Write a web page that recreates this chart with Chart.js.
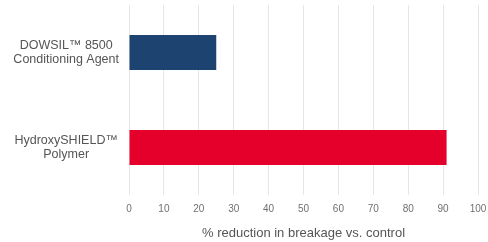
<!DOCTYPE html>
<html>
<head>
<meta charset="utf-8">
<script src="https://cdn.jsdelivr.net/npm/chart.js@4/dist/chart.umd.min.js"></script>
<style>
	html, body { margin:0; padding:0; background:#fff; }
	#wrap { width:488px; height:242px; }
</style>
</head>
<body>
<div id="wrap"><canvas id="chart" width="488" height="242"></canvas></div>
<script>
var categories = [['DOWSIL\u2122 8500', 'Conditioning Agent'], ['HydroxySHIELD\u2122', 'Polymer']];
var reduction = [25, 91];
var barColors = ['#1d4470', '#e5002b'];
var xTicks = [0, 10, 20, 30, 40, 50, 60, 70, 80, 90, 100];
var xTitle = '% reduction in breakage vs. control';

var ctx = document.getElementById('chart').getContext('2d');
var chart = new Chart(ctx, {
	type: 'bar',
	data: {
		labels: categories,
		datasets: [{
			data: reduction,
			backgroundColor: barColors,
			borderWidth: 0,
			barPercentage: 0.74,
			categoryPercentage: 0.5
		}]
	},
	options: {
		indexAxis: 'y',
		responsive: false,
		animation: false,
		layout: { padding: { top: 5, right: 0, left: 0, bottom: 2 } },
		plugins: { legend: { display: false }, tooltip: { enabled: false } },
		scales: {
			x: {
				min: 0, max: 100,
				afterBuildTicks: function (axis) {
					axis.ticks = xTicks.map(v => ({ value: v }));
				},
				afterFit: function (axis) {
					axis.paddingRight = 10;
					axis.paddingLeft = 0;
				},
				grid: { color: '#e6e6e6', drawTicks: false },
				border: { display: false },
				ticks: { color: '#707070', font: { family: 'Liberation Sans', size: 10, lineHeight: 1 }, padding: 9 },
				title: { display: true, text: xTitle, color: '#555', font: { family: 'Liberation Sans', size: 13, lineHeight: 1 }, padding: { top: 4, bottom: 0 } }
			},
			y: {
				grid: { display: false },
				border: { display: false },
				afterFit: function (axis) {
					axis.width = 129;
					axis.paddingTop = 0;
					axis.paddingBottom = 0;
				},
				ticks: {
					color: '#555',
					crossAlign: 'center',
					padding: 2,
					font: { family: 'Liberation Sans', size: 12.5, lineHeight: 1.15 }
				}
			}
		}
	}
});
</script>
</body>
</html>
